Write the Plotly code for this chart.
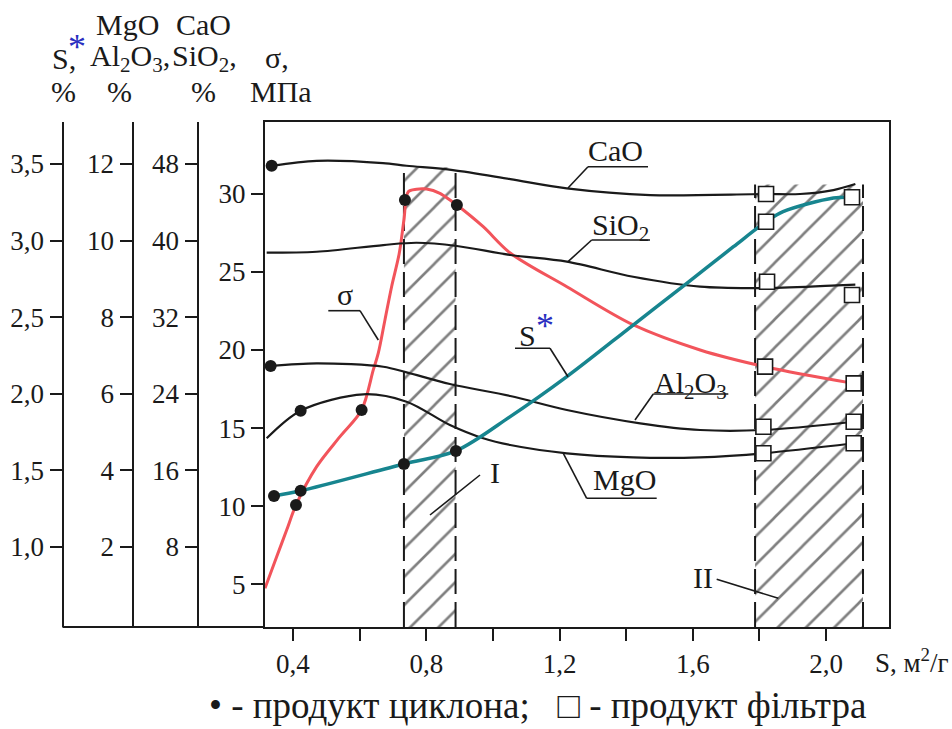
import plotly.graph_objects as go

# ---------------- data ----------------
x_range = [0.316, 2.189]
sig_range = [2.263, 34.594]        # sigma, MPa
hi_range = [-0.355, 52.39]         # CaO, SiO2, %
lo_range = [-0.089, 13.097]        # MgO, Al2O3, %
s_range = [0.478, 3.774]           # S*, %

x_ticks = [0.4, 0.6, 0.8, 1.0, 1.2, 1.4, 1.6, 1.8, 2.0]
x_ticktext = ["0,4", "", "0,8", "", "1,2", "", "1,6", "", "2,0"]
sig_ticks = [5, 10, 15, 20, 25, 30]
hi_ticks = [8, 16, 24, 32, 40, 48]
lo_ticks = [2, 4, 6, 8, 10, 12]
s_ticks = [1.0, 1.5, 2.0, 2.5, 3.0, 3.5]
s_ticktext = ["1,0", "1,5", "2,0", "2,5", "3,0", "3,5"]

cao_x = [0.336, 0.471, 0.670, 0.741, 0.880, 1.052, 1.222, 1.472, 1.812, 1.922, 2.022, 2.088]
cao_y = [47.82, 48.34, 48.10, 47.82, 47.37, 46.43, 45.46, 44.76, 44.87, 44.87, 45.28, 45.91]

sio2_x = [0.321, 0.471, 0.671, 0.771, 0.892, 1.052, 1.222, 1.421, 1.622, 1.823, 2.052, 2.088]
sio2_y = [38.74, 38.84, 39.54, 39.78, 39.44, 38.50, 37.80, 36.23, 35.19, 35.05, 35.36, 35.40]

al2o3_x = [0.333, 0.471, 0.671, 0.741, 0.871, 1.052, 1.222, 1.442, 1.622, 1.812, 2.083]
al2o3_y = [6.726, 6.796, 6.707, 6.560, 6.256, 5.943, 5.577, 5.230, 5.055, 5.055, 5.271]

mgo_x = [0.321, 0.423, 0.611, 0.741, 0.871, 0.971, 1.052, 1.222, 1.421, 1.622, 1.812, 2.083]
mgo_y = [4.838, 5.559, 5.987, 5.794, 5.185, 4.838, 4.663, 4.446, 4.342, 4.342, 4.446, 4.708]

s_x = [0.343, 0.423, 0.733, 0.889, 1.052, 1.222, 1.421, 1.582, 1.722, 1.820, 1.871, 2.022, 2.078]
s_y = [1.333, 1.367, 1.542, 1.627, 1.851, 2.112, 2.449, 2.721, 2.960, 3.123, 3.189, 3.278, 3.283]

sig_x = [0.316, 0.351, 0.381, 0.409, 0.471, 0.541, 0.606, 0.641, 0.656, 0.676, 0.696, 0.719,
         0.733, 0.746, 0.771, 0.801, 0.841, 0.871, 0.892, 0.971, 1.052, 1.222, 1.422, 1.622,
         1.817, 2.083]
sig_y = [4.74, 6.76, 8.47, 10.07, 12.53, 14.45, 16.16, 18.72, 19.79, 21.92, 24.05, 26.19,
         28.32, 30.13, 30.29, 30.30, 30.03, 29.60, 29.28, 27.89, 26.21, 24.05, 21.60, 20.00,
         18.93, 17.86]

# cyclone product (filled dots)
cyc_cao_x, cyc_cao_y = [0.336], [47.82]
cyc_al_x, cyc_al_y = [0.333], [6.726]
cyc_mgo_x, cyc_mgo_y = [0.423], [5.559]
cyc_s_x, cyc_s_y = [0.343, 0.423, 0.733, 0.889], [1.333, 1.367, 1.542, 1.627]
cyc_sig_x, cyc_sig_y = [0.409, 0.606, 0.736, 0.892], [10.07, 16.16, 29.60, 29.28]

# filter product (open squares)
fil_cao_x, fil_cao_y = [1.820], [44.87]
fil_sio2_x, fil_sio2_y = [1.823, 2.078], [35.71, 34.32]
fil_s_x, fil_s_y = [1.820, 2.078], [3.123, 3.283]
fil_sig_x, fil_sig_y = [1.817, 2.083], [18.93, 17.86]
fil_al_x, fil_al_y = [1.812, 2.083], [5.141, 5.271]
fil_mgo_x, fil_mgo_y = [1.812, 2.083], [4.446, 4.708]

# hatched zones I and II (x limits, top in MPa)
zone_x = [[0.733, 0.888], [1.787, 2.111]]
zone_top = [31.7, 30.6]

# ---------------- layout helpers ----------------
W, H = 952, 729
ML, MR, MT, MB = 0, 63, 122, 102
PW, PH = W - ML - MR, H - MT - MB


def px(xp):
    return (xp - ML) / PW


def py(yp):
    return (H - MB - yp) / PH


FONT = "'Liberation Serif', 'Times New Roman', 'DejaVu Serif', serif"
INK = "#1a1a1a"
RED = "#f2545b"
TEAL = "#17858f"

fig = go.Figure()

# hatched zones
for (xa, xb), top in zip(zone_x, zone_top):
    fig.add_trace(go.Scatter(
        x=[xa, xb, xb, xa, xa], y=[sig_range[0], sig_range[0], top, top, sig_range[0]],
        mode="lines", fill="toself", line=dict(width=0, color="rgba(0,0,0,0)"),
        fillcolor="rgba(0,0,0,0)",
        fillpattern=dict(shape="/", size=20, solidity=0.13, fgcolor="#000000",
                         bgcolor="rgba(0,0,0,0)"),
        hoverinfo="skip", yaxis="y"))
    for xv in (xa, xb):
        fig.add_trace(go.Scatter(x=[xv, xv], y=[sig_range[0], top], mode="lines",
                                 line=dict(color=INK, width=2, dash="25px,8px"),
                                 hoverinfo="skip", yaxis="y"))


def curve(x, y, axis, color, width):
    fig.add_trace(go.Scatter(x=x, y=y, mode="lines", yaxis=axis,
                             line=dict(color=color, width=width, shape="spline", smoothing=0.9)))


curve(cao_x, cao_y, "y2", INK, 2.2)
curve(sio2_x, sio2_y, "y2", INK, 2.2)
curve(al2o3_x, al2o3_y, "y3", INK, 2.2)
curve(mgo_x, mgo_y, "y3", INK, 2.2)
curve(sig_x, sig_y, "y", RED, 3)
curve(s_x, s_y, "y4", TEAL, 3.5)


def dots(x, y, axis):
    fig.add_trace(go.Scatter(x=x, y=y, mode="markers", yaxis=axis,
                             marker=dict(symbol="circle", size=12, color=INK)))


def squares(x, y, axis):
    fig.add_trace(go.Scatter(x=x, y=y, mode="markers", yaxis=axis,
                             marker=dict(symbol="square", size=15, color="white",
                                         line=dict(color=INK, width=1.6))))


dots(cyc_cao_x, cyc_cao_y, "y2")
dots(cyc_al_x, cyc_al_y, "y3")
dots(cyc_mgo_x, cyc_mgo_y, "y3")
dots(cyc_s_x, cyc_s_y, "y4")
dots(cyc_sig_x, cyc_sig_y, "y")
squares(fil_cao_x, fil_cao_y, "y2")
squares(fil_sio2_x, fil_sio2_y, "y2")
squares(fil_s_x, fil_s_y, "y4")
squares(fil_sig_x, fil_sig_y, "y")
squares(fil_al_x, fil_al_y, "y3")
squares(fil_mgo_x, fil_mgo_y, "y3")

tickfont = dict(family=FONT, size=27, color=INK)
common_y = dict(showgrid=False, zeroline=False, showline=True, linecolor=INK, linewidth=2,
                ticks="outside", ticklen=12, tickwidth=2, tickcolor=INK, tickfont=tickfont)

fig.update_layout(
    width=W, height=H, margin=dict(l=ML, r=MR, t=MT, b=MB),
    paper_bgcolor="white", plot_bgcolor="white", showlegend=False,
    font=dict(family=FONT, color=INK),
    xaxis=dict(domain=[px(265), 1], range=x_range, showgrid=False, zeroline=False,
               showline=True, mirror=True, linecolor=INK, linewidth=2,
               ticks="outside", ticklen=12, tickwidth=2, tickcolor=INK,
               tickvals=x_ticks, ticktext=x_ticktext, tickfont=tickfont),
    yaxis=dict(range=sig_range, tickvals=sig_ticks, ticktext=[str(v) for v in sig_ticks],
               mirror=True, **common_y),
    yaxis2=dict(range=hi_range, tickvals=hi_ticks, ticktext=[str(v) for v in hi_ticks],
                anchor="free", position=px(197.5), overlaying="y", side="left", **common_y),
    yaxis3=dict(range=lo_range, tickvals=lo_ticks, ticktext=[str(v) for v in lo_ticks],
                anchor="free", position=px(132.5), overlaying="y", side="left", **common_y),
    yaxis4=dict(range=s_range, tickvals=s_ticks, ticktext=s_ticktext,
                anchor="free", position=px(62.5), overlaying="y", side="left", **common_y),
)

# bottom line joining the left axes
fig.add_shape(type="line", xref="paper", yref="paper", x0=px(62.5), x1=px(265), y0=0, y1=0,
              line=dict(color=INK, width=2))

# leader lines
leaders = [
    ((588, 166.7), (648, 166.7)), ((588, 166.7), (568, 188)),
    ((591.7, 240), (650, 240)), ((591.7, 240), (568, 261.7)),
    ((328.3, 310.7), (360, 310.7)), ((360, 310.7), (378.3, 340)),
    ((515, 348.3), (550, 348.3)), ((550, 348.3), (568, 376.7)),
    ((653.3, 394), (728.3, 394)), ((653.3, 394), (635, 420)),
    ((586.7, 498.3), (656.7, 498.3)), ((586.7, 498.3), (563.3, 453.3)),
    ((480, 475), (430, 515)),
    ((716.7, 579.3), (778.3, 598.3)),
]
for (a, b) in leaders:
    fig.add_shape(type="line", xref="paper", yref="paper", x0=px(a[0]), y0=py(a[1]),
                  x1=px(b[0]), y1=py(b[1]), line=dict(color=INK, width=1.6))


def label(text, xp, yp, size=30, color=INK, xanchor="center"):
    fig.add_annotation(text=text, x=px(xp), y=py(yp), xref="paper", yref="paper",
                       showarrow=False, xanchor=xanchor, yanchor="middle",
                       font=dict(family=FONT, size=size, color=color))


STAR = "#2a2fc0"
# axis headers
label("S,", 64, 58)
label("*", 77, 47, size=36, color=STAR)
label("%", 63, 92)
label("MgO", 127, 24)
label("Al<sub>2</sub>O<sub>3</sub>,", 130, 58)
label("%", 119, 92)
label("CaO", 203, 24)
label("SiO<sub>2</sub>,", 204, 58)
label("%", 203, 92)
label("σ,", 277, 57)
label("МПа", 281, 92)

# curve labels
label("CaO", 615, 150)
label("SiO<sub>2</sub>", 620, 227)
label("σ", 345, 294)
label("S", 527, 335)
label("*", 545, 326, size=36, color=STAR)
label("Al<sub>2</sub>O<sub>3</sub>", 690, 385)
label("MgO", 624, 479)
label("I", 495, 472)
label("II", 703, 577)

# x-axis title and legend line
label("S, м<sup>2</sup>/г", 912, 661, size=27)
label("•\u00a0- продукт циклона;\u00a0\u00a0\u00a0□\u00a0- продукт фільтра", 537, 705, size=37)

fig.write_html("out.html")
